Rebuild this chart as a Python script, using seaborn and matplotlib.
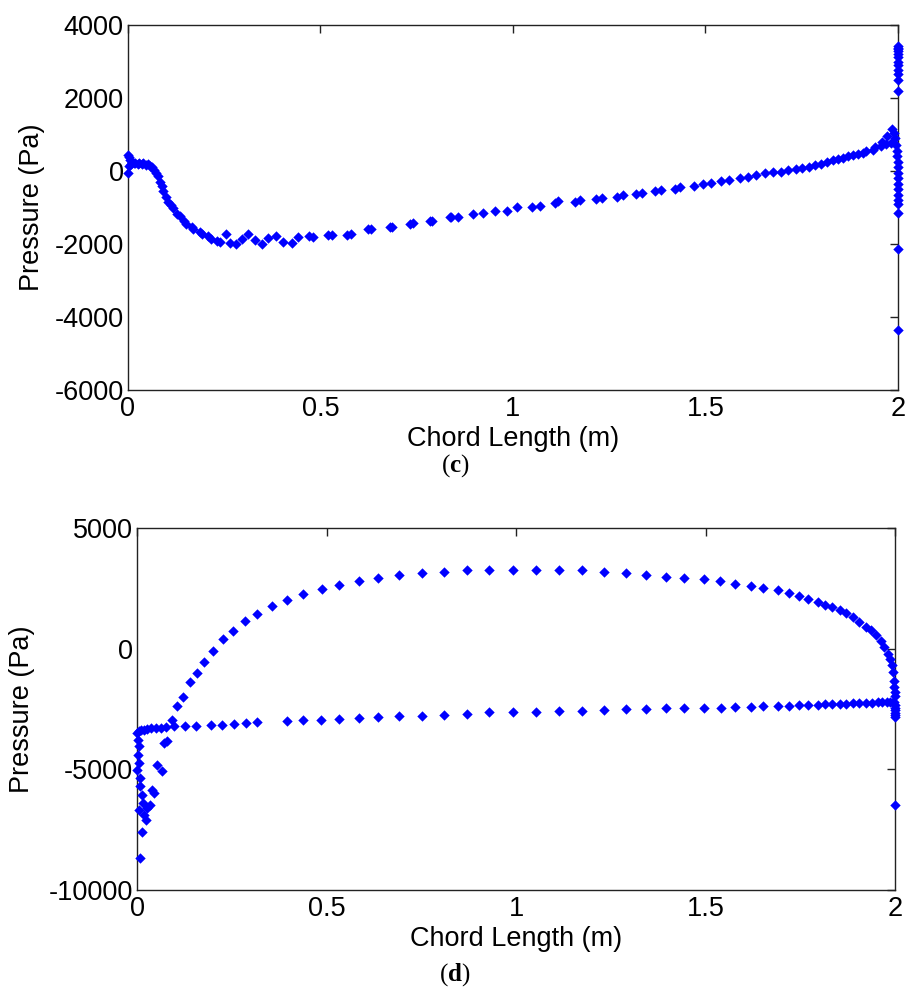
import numpy as np
import pandas as pd
import matplotlib
matplotlib.use("Agg")
import matplotlib.pyplot as plt
import seaborn as sns

# ---------------- data: panel (c) ----------------
c_surf1_x = [0.000, 0.002, 0.005, 0.010, 0.018, 0.028, 0.040, 0.052, 0.062, 0.072, 0.082, 0.092,
             0.104, 0.118, 0.134, 0.150, 0.170, 0.192, 0.215, 0.240, 0.265, 0.296, 0.330, 0.364,
             0.402, 0.442, 0.480, 0.530, 0.578, 0.630, 0.685, 0.740, 0.790, 0.840, 0.896, 0.953,
             1.010, 1.070, 1.117, 1.174, 1.230, 1.285, 1.335, 1.385, 1.435, 1.494, 1.540, 1.590,
             1.630, 1.675, 1.715, 1.750, 1.785, 1.815, 1.845, 1.870, 1.895, 1.918, 1.940, 1.958,
             1.972, 1.984]
c_surf1_p = [450, 380, 300, 250, 230, 220, 210, 180, 100, -60, -300, -560,
             -840, -1000, -1240, -1440, -1580, -1720, -1850, -1940, -1970, -1850, -1900, -1840,
             -1940, -1810, -1800, -1750, -1720, -1600, -1530, -1430, -1370, -1260, -1180, -1100,
             -990, -960, -820, -800, -740, -660, -590, -520, -450, -360, -270, -190,
             -100, -40, 30, 80, 160, 250, 330, 400, 470, 560, 660, 800,
             960, 1150]
c_surf2_x = [0.000, 0.003, 0.008, 0.015, 0.025, 0.036, 0.048, 0.058, 0.068, 0.078, 0.088, 0.098,
             0.112, 0.128, 0.146, 0.165, 0.186, 0.208, 0.232, 0.255, 0.280, 0.312, 0.348, 0.385,
             0.425, 0.470, 0.520, 0.570, 0.623, 0.680, 0.733, 0.784, 0.836, 0.857, 0.922, 0.984,
             1.049, 1.109, 1.160, 1.215, 1.270, 1.320, 1.370, 1.420, 1.470, 1.515, 1.560, 1.610,
             1.655, 1.695, 1.735, 1.770, 1.800, 1.830, 1.857, 1.883, 1.910, 1.935, 1.955, 1.970,
             1.982]
c_surf2_p = [-50, 150, 200, 210, 200, 190, 170, 140, 20, -150, -400, -700,
             -920, -1180, -1380, -1530, -1660, -1790, -1920, -1730, -2000, -1730, -2000, -1780,
             -1970, -1780, -1750, -1760, -1600, -1540, -1440, -1380, -1270, -1250, -1150, -1100,
             -990, -880, -840, -770, -700, -630, -560, -490, -420, -330, -250, -160,
             -60, -20, 50, 120, 200, 290, 360, 440, 490, 580, 680, 740,
             760]
c_te_x = [1.990, 1.993, 1.995, 1.997, 1.998, 1.999, 2.0, 2.0, 2.0, 2.0, 2.0, 2.0, 2.0, 2.0,
          2.0, 2.0, 2.0, 2.0, 2.0, 2.0, 2.0, 2.0, 2.0, 2.0, 2.0, 2.0, 2.0, 2.0, 2.0]
c_te_p = [1050, 900, 700, 550, 400, 250, 100, -50, -200, -350, -500, -650, -800, -900,
          -1150, -2140, -4360, 3420, 3380, 3340, 3280, 3200, 3120, 3000, 2900, 2780, 2650, 2500, 2200]

# ---------------- data: panel (d) ----------------
d_upper_x = [0.026, 0.035, 0.040, 0.044, 0.053, 0.066, 0.070, 0.079, 0.092, 0.106, 0.122, 0.141,
             0.159, 0.178, 0.200, 0.226, 0.254, 0.284, 0.317, 0.356, 0.397, 0.438, 0.487, 0.534,
             0.585, 0.637, 0.691, 0.752, 0.810, 0.871, 0.930, 0.992, 1.054, 1.114, 1.173, 1.233,
             1.289, 1.343, 1.395, 1.444, 1.496, 1.539, 1.579, 1.620, 1.653, 1.690, 1.719, 1.747,
             1.771, 1.797, 1.815, 1.835, 1.854, 1.871, 1.889, 1.906, 1.924, 1.937, 1.950, 1.963,
             1.972, 1.981, 1.987, 1.993, 1.996, 1.998, 1.998, 1.999]
d_upper_p = [-6600, -6470, -5840, -5980, -4810, -5080, -3900, -3840, -2940, -2380, -2010, -1390,
             -1000, -540, -100, 380, 720, 1160, 1430, 1780, 2010, 2260, 2470, 2640,
             2820, 2930, 3060, 3140, 3190, 3260, 3260, 3260, 3260, 3240, 3240, 3170,
             3130, 3060, 2990, 2920, 2900, 2800, 2670, 2610, 2500, 2420, 2290, 2190,
             2060, 1920, 1810, 1720, 1600, 1490, 1320, 1110, 900, 760, 560, 310,
             70, -210, -420, -690, -970, -1320, -1600, -1780]
d_lower_x = [0.004, 0.011, 0.018, 0.027, 0.038, 0.049, 0.063, 0.077, 0.098, 0.126, 0.155, 0.195,
             0.224, 0.257, 0.287, 0.317, 0.396, 0.438, 0.485, 0.534, 0.585, 0.637, 0.691, 0.752,
             0.810, 0.870, 0.930, 0.992, 1.054, 1.114, 1.173, 1.233, 1.289, 1.343, 1.395, 1.444,
             1.497, 1.540, 1.579, 1.620, 1.653, 1.690, 1.719, 1.747, 1.771, 1.797, 1.815, 1.835,
             1.854, 1.871, 1.889, 1.906, 1.924, 1.940, 1.955, 1.967, 1.978, 1.988, 1.994, 1.998]
d_lower_p = [-3420, -3390, -3350, -3330, -3300, -3290, -3270, -3250, -3220, -3220, -3190, -3180,
             -3150, -3110, -3060, -3040, -3010, -2970, -2940, -2900, -2890, -2830, -2810, -2780,
             -2740, -2690, -2640, -2625, -2625, -2570, -2570, -2560, -2500, -2500, -2470, -2460,
             -2440, -2450, -2430, -2420, -2380, -2370, -2360, -2350, -2340, -2320, -2310, -2300,
             -2290, -2280, -2270, -2260, -2250, -2240, -2230, -2220, -2210, -2200, -2200, -2200]
d_edge_x = [0.000, 0.002, 0.004, 0.002, 0.004, 0.000, 0.007, 0.009, 0.013, 0.016, 0.004, 0.018,
            0.025, 0.013, 0.009, 2.0, 2.0, 2.0, 2.0, 2.0, 2.0, 2.0, 2.0]
d_edge_p = [-3490, -3770, -4040, -4390, -4740, -5010, -5360, -5700, -6050, -6400, -6680, -6880,
            -7090, -7580, -8680, -2350, -2450, -2550, -2650, -2750, -2850, -1950, -6460]

x_ticks = [0, 0.5, 1, 1.5, 2]
x_tick_labels = ["0", "0.5", "1", "1.5", "2"]
c_y_ticks = [-6000, -4000, -2000, 0, 2000, 4000]
d_y_ticks = [-10000, -5000, 0, 5000]

df_c = pd.DataFrame({
    "x": c_surf1_x + c_surf2_x + c_te_x,
    "p": c_surf1_p + c_surf2_p + c_te_p,
})
df_d = pd.DataFrame({
    "x": d_upper_x + d_lower_x + d_edge_x,
    "p": d_upper_p + d_lower_p + d_edge_p,
})

sns.set_theme(style="white")
plt.rcParams["font.family"] = ["Liberation Sans", "DejaVu Sans"]
plt.rcParams["axes.unicode_minus"] = False
plt.rcParams["mathtext.fontset"] = "custom"
plt.rcParams["mathtext.rm"] = "Liberation Serif"
plt.rcParams["mathtext.bf"] = "Liberation Serif:bold"
plt.rcParams["text.color"] = "black"
plt.rcParams["axes.labelcolor"] = "black"
plt.rcParams["xtick.color"] = "black"
plt.rcParams["ytick.color"] = "black"

FS = 19.5
BLUE = "#0000ff"

fig = plt.figure(figsize=(9.09, 9.92), dpi=100)
ax1 = fig.add_axes([0.14081, 0.60685, 0.84708, 0.36794])
ax2 = fig.add_axes([0.15072, 0.10282, 0.83388, 0.36492])


def style(ax, yticks, ylim, label_x):
    ax.set_xlim(0, 2)
    ax.set_ylim(*ylim)
    ax.set_xticks(x_ticks)
    ax.set_xticklabels(x_tick_labels)
    ax.set_yticks(yticks)
    ax.set_yticklabels([str(v) for v in yticks])
    ax.tick_params(axis="both", which="major", direction="in", length=6, width=1,
                   color="#222222", labelsize=FS, top=True, right=True,
                   labelcolor="black")
    ax.tick_params(axis="x", pad=4)
    ax.tick_params(axis="y", pad=3)
    for s in ax.spines.values():
        s.set_visible(True)
        s.set_color("#222222")
        s.set_linewidth(1.0)
    ax.set_xlabel("Chord Length (m)", fontsize=FS, labelpad=3, color="black")
    ax.set_ylabel("Pressure (Pa)", fontsize=FS, color="black")
    ax.yaxis.set_label_coords(label_x, 0.5)
    ax.grid(False)


for ax, df in ((ax1, df_c), (ax2, df_d)):
    sns.scatterplot(data=df, x="x", y="p", ax=ax, color=BLUE, marker="D", s=28,
                    linewidth=0, clip_on=False, legend=False, zorder=3)

style(ax1, c_y_ticks, (-6000, 4000), -0.108)
style(ax2, d_y_ticks, (-10000, 5000), -0.135)

fig.text(455 / 909, 1 - 466 / 992, r"$(\mathbf{c})$", ha="center", va="center", fontsize=18)
fig.text(455 / 909, 1 - 975 / 992, r"$(\mathbf{d})$", ha="center", va="center", fontsize=18)

fig.savefig("out.png", dpi=100, facecolor="white")
